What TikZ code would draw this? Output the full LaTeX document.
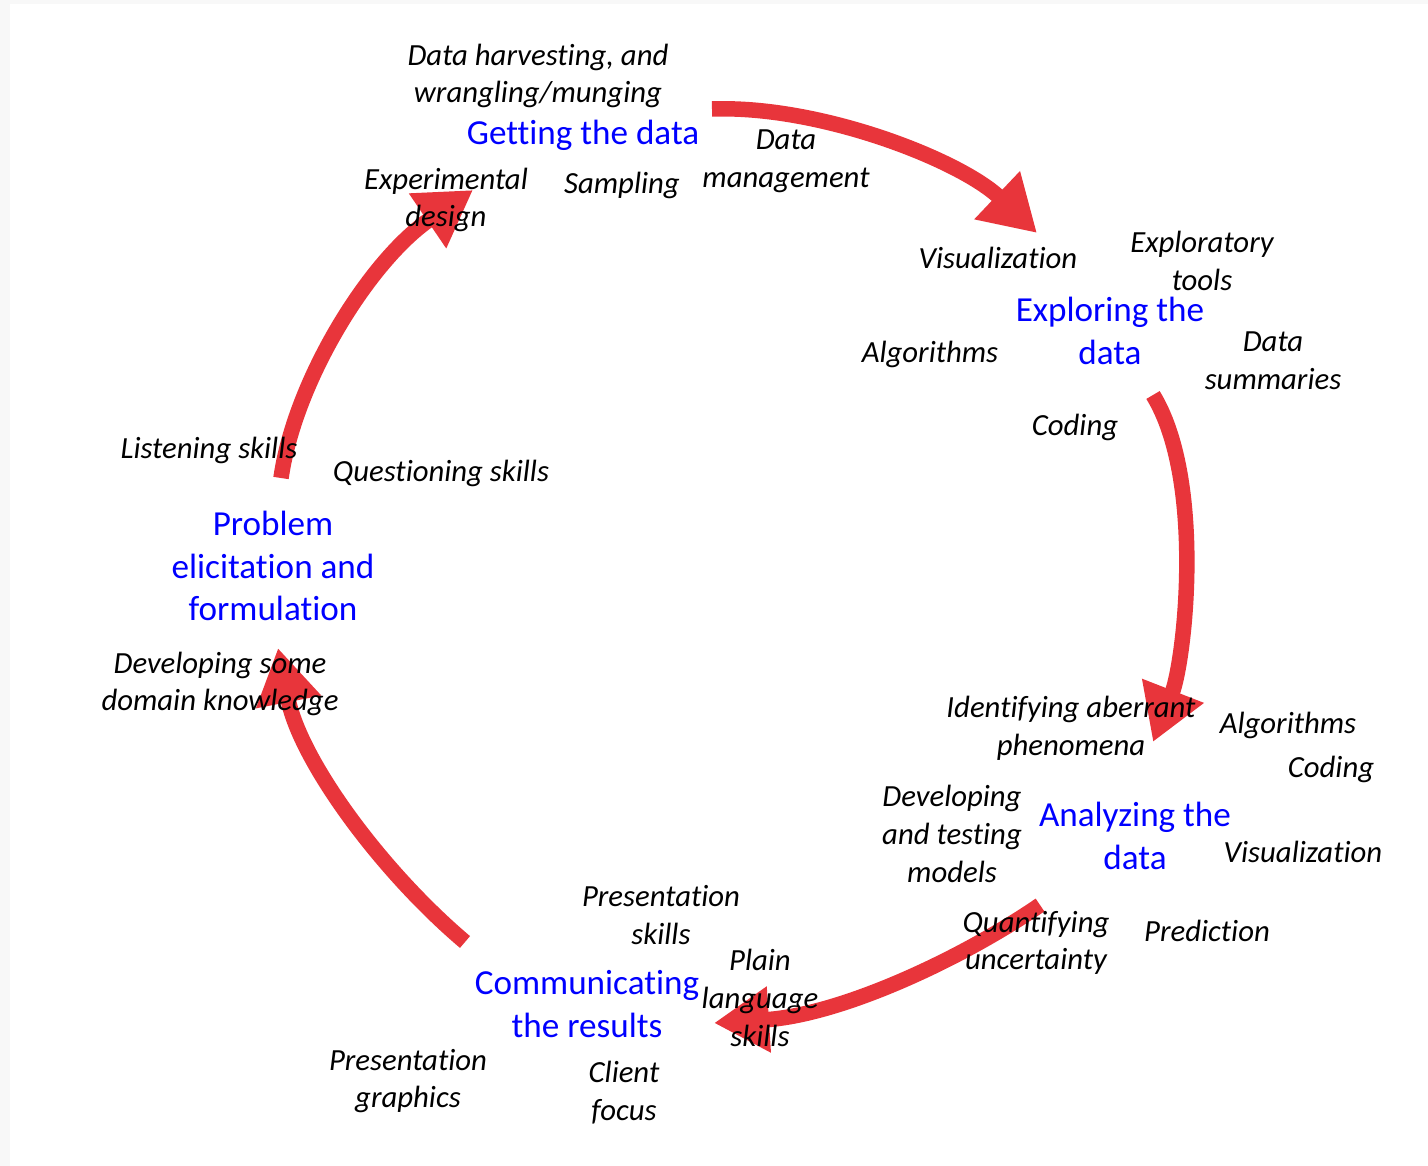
\documentclass[tikz,border=0pt]{standalone}
\usepackage{fontspec}
\setmainfont{Carlito}[Ligatures=NoCommon]
\usepackage{xcolor}
\usetikzlibrary{arrows.meta}
\definecolor{cyclered}{RGB}{232,53,59}
\definecolor{stageblue}{RGB}{0,0,255}
\definecolor{pagegray}{RGB}{248,248,248}

\begin{document}
\begin{tikzpicture}[x=0.02cm,y=-0.02cm,
	note/.style={inner sep=0pt,align=center,font=\fontsize{17.5}{21.5}\selectfont\itshape},
	stage/.style={inner sep=0pt,align=center,text=stageblue,font=\fontsize{20}{24.2}\selectfont},
	cyclearrow/.style={line width=0.31cm,cyclered,-{Triangle[length=1.1cm,width=1.25cm]}}]
		\useasboundingbox (0,0) rectangle (1428,1166);
		\fill[pagegray] (0,0) rectangle (1428,1166);
		\fill[white] (10,4) rectangle (1428,1166);

		% ends of the arrows
		\coordinate (get out) at (712,109);
		\coordinate (explore in) at (1037,233);
		\coordinate (explore out) at (1153,395);
		\coordinate (analyze in) at (1153,742);
		\coordinate (analyze out) at (1040,905);
		\coordinate (comm in) at (714,1023);
		\coordinate (comm out) at (465,942);
		\coordinate (problem in) at (278,648);
		\coordinate (problem out) at (281,478);
		\coordinate (get in) at (473,190);

		\draw[cyclearrow] (get out) .. controls (820,105) and (960,160) .. (explore in);
		\draw[cyclearrow] (explore out) .. controls (1205,480) and (1185,660) .. (analyze in);
		\draw[cyclearrow] (analyze out) .. controls (960,960) and (840,1015) .. (comm in);
		\draw[cyclearrow] (comm out) .. controls (380,870) and (300,760) .. (problem in);
		\draw[cyclearrow] (problem out) .. controls (295,380) and (370,260) .. (get in);

		% getting the data
		\node[stage] (getting) at (583,135) {Getting the data};
		\node[note] (harvest) at (538,76) {Data harvesting, and\\wrangling/munging};
		\node[note] (datamgmt) at (786,161) {Data\\management};
		\node[note] (expdesign) at (446,200) {Experimental\\design};
		\node[note] (sampling) at (622,185) {Sampling};

		% exploring the data
		\node[stage] (exploring) at (1110,331) {Exploring the\\data};
		\node[note] (vis1) at (998,258) {Visualization};
		\node[note] (exptools) at (1202,261) {Exploratory\\tools};
		\node[note] (algo1) at (930,354) {Algorithms};
		\node[note] (summaries) at (1273,361) {Data\\summaries};
		\node[note] (coding1) at (1075,427) {Coding};

		% problem
		\node[stage] (problem) at (273,566) {Problem\\elicitation and\\formulation};
		\node[note] (listening) at (209,450) {Listening skills};
		\node[note] (questioning) at (441,473) {Questioning skills};
		\node[note] (domain) at (220,684) {Developing some\\domain knowledge};

		% analyzing the data
		\node[stage] (analyzing) at (1135,836) {Analyzing the\\data};
		\node[note] (aberrant) at (1071,728) {Identifying aberrant\\phenomena};
		\node[note] (algo2) at (1288,725) {Algorithms};
		\node[note] (coding2) at (1331,769) {Coding};
		\node[note] (models) at (952,834) {Developing\\and testing\\models};
		\node[note] (vis2) at (1303,852) {Visualization};
		\node[note] (uncertainty) at (1036,943) {Quantifying\\uncertainty};
		\node[note] (prediction) at (1207,931) {Prediction};

		% communicating
		\node[stage] (communicating) at (587,1004) {Communicating\\the results};
		\node[note] (presskills) at (661,915) {Presentation\\skills};
		\node[note] (plain) at (760,998) {Plain\\language\\skills};
		\node[note] (graphics) at (408,1081) {Presentation\\graphics};
		\node[note] (client) at (624,1093) {Client\\focus};
	\end{tikzpicture}
\end{document}
